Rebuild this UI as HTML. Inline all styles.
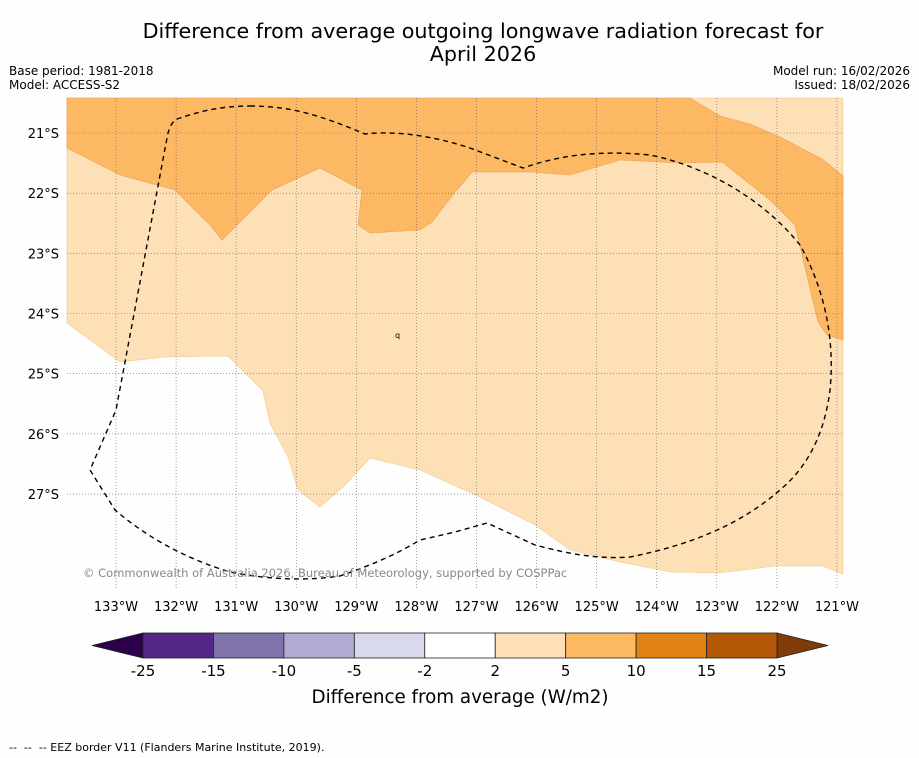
<!DOCTYPE html>
<html><head><meta charset="utf-8"><style>
body{margin:0;background:#fff;font-family:"DejaVu Sans","Liberation Sans",sans-serif;}
#wrap{position:relative;width:919px;height:758px;overflow:hidden;background:#fefefe}
</style></head><body>
<div id="wrap">
<svg id="svg" width="919" height="758" xmlns="http://www.w3.org/2000/svg" font-family="DejaVu Sans, Liberation Sans, sans-serif">
<text x="483" y="38" text-anchor="middle" font-size="20.7">Difference from average outgoing longwave radiation forecast for</text>
<text x="483" y="61" text-anchor="middle" font-size="20.7">April 2026</text>
<text x="9" y="75" font-size="12">Base period: 1981-2018</text>
<text x="9" y="89" font-size="12">Model: ACCESS-S2</text>
<text x="910" y="75" font-size="12" text-anchor="end">Model run: 16/02/2026</text>
<text x="910" y="89" font-size="12" text-anchor="end">Issued: 18/02/2026</text>
<g id="map">
<polygon fill="#fee0b6" stroke="#f0c890" stroke-width="0.6" points="67,98 843,98 843,574 822,566 775,566 720,573 670,572 620,562 570,550 535,525 480,497 420,470 370,458 345,485 320,507 298,490 288,457 270,423 263,391 228,356 165,357 120,362 67,323"/>
<polygon fill="#fdb863" stroke="#e8a050" stroke-width="0.6" points="67,98 690,98 720,116 750,124 780,137 822,159 843,176 843,340 827,335 818,322 808,280 795,225 770,200 745,180 722,162 680,163 620,160 570,175 530,172 472,172 455,192 432,222 420,230 370,233 358,225 362,190 320,168 272,190 222,240 210,225 175,190 120,175 67,148"/>
<g id="grid"></g>
<path fill="none" stroke="#000" stroke-width="1.4" stroke-dasharray="5,4" d="M250,106 C290,106 320,115 365,134 C400,130 440,138 470,148 L523,168 C560,155 600,150 650,155 C700,165 760,195 800,245 C825,290 835,340 830,390 C825,430 810,465 780,490 C740,525 690,545 630,557 C590,560 555,550 535,545 L487,523 L455,532 L420,540 C400,552 380,562 340,576 C300,582 260,578 230,572 C190,560 150,540 115,510 L90,470 L116,410 L167,138 Q170,120 180,118 C210,108 230,106 250,106"/>
<text x="395" y="338" font-size="8">q</text>
</g>
<text x="83" y="577" font-size="11.5" fill="#888">© Commonwealth of Australia 2026, Bureau of Meteorology, supported by COSPPac</text>
<g id="axes"></g>
<g id="cbar"></g>
<text x="460" y="703" text-anchor="middle" font-size="18.3">Difference from average (W/m2)</text>
<text x="9" y="751" font-size="11" xml:space="preserve">--  --  -- EEZ border V11 (Flanders Marine Institute, 2019).</text>
</svg>
</div>
<script>
const lonTicks=[133,132,131,130,129,128,127,126,125,124,123,122,121];
const latTicks=[21,22,23,24,25,26,27];
const levels=[-25,-15,-10,-5,-2,2,5,10,15,25];
const colors=["#542788","#8073ac","#b2abd2","#d8daeb","#ffffff","#fee0b6","#fdb863","#e08214","#b35806"];
const NS="http://www.w3.org/2000/svg";
function xLon(l){return 116+(133-l)*60.08;}
function yLat(l){return 133+(l-21)*60.17;}
function mk(t,a,p){const e=document.createElementNS(NS,t);for(const k in a)e.setAttribute(k,a[k]);p.appendChild(e);return e;}
const g=document.getElementById('grid'),ax=document.getElementById('axes'),cb=document.getElementById('cbar');
lonTicks.forEach(l=>{const x=xLon(l);
 const ln=mk('line',{x1:x,x2:x,y1:98,y2:590,stroke:'#666','stroke-width':0.6,'stroke-dasharray':'1,2'},g);
 
 
 const t=mk('text',{x:x,y:611,'text-anchor':'middle','font-size':13},ax);t.textContent=l+'°W';
 
 });
latTicks.forEach(l=>{const y=yLat(l);
 const ln=mk('line',{x1:67,x2:843,y1:y,y2:y,stroke:'#666','stroke-width':0.6,'stroke-dasharray':'1,2'},g);
 
 
 const t=mk('text',{x:59,y:y+5,'text-anchor':'end','font-size':13},ax);t.textContent=l+'°S';
 
 });
const x0=143,w=(777-143)/colors.length,y0=633,h=25;
const lt=mk('polygon',{points:`${x0},${y0} 92,${y0+h/2} ${x0},${y0+h}`,fill:'#2d004b',stroke:'#222','stroke-width':0.8},cb);


const rt=mk('polygon',{points:`777,${y0} 828,${y0+h/2} 777,${y0+h}`,fill:'#7f3b08',stroke:'#222','stroke-width':0.8},cb);


colors.forEach((c,i)=>{const r=mk('rect',{x:x0+i*w,y:y0,width:w,height:h,fill:c,stroke:'#222','stroke-width':0.8},cb);
 
 });
levels.forEach((v,i)=>{const t=mk('text',{x:x0+i*w,y:676,'text-anchor':'middle','font-size':15},cb);t.textContent=v;
 
 });
</script>
</body></html>
